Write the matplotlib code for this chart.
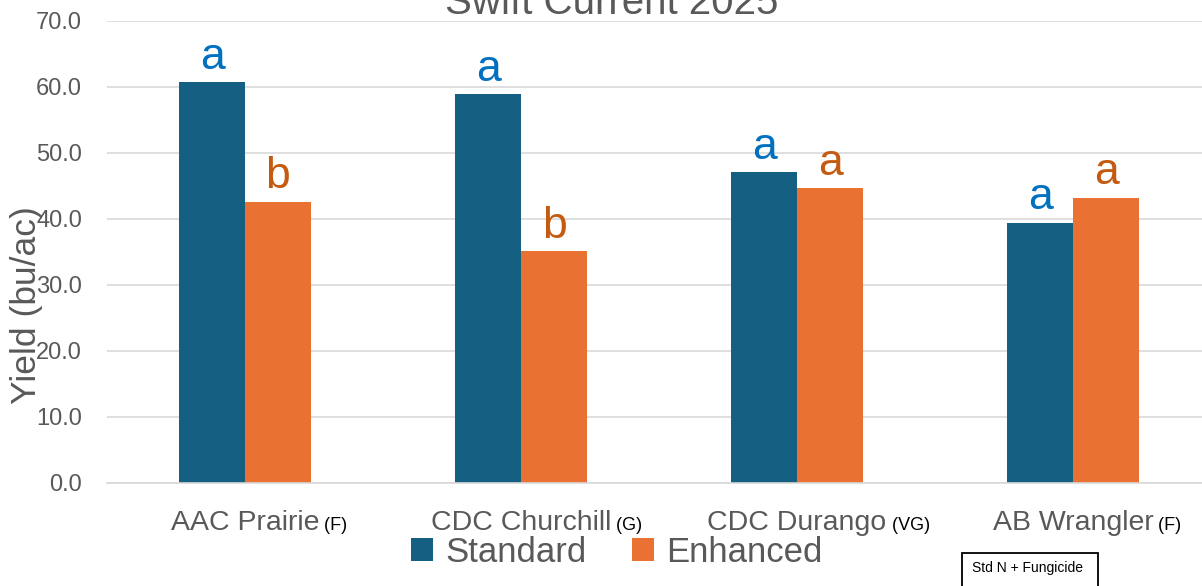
import matplotlib
matplotlib.use("Agg")
import matplotlib.pyplot as plt
from matplotlib.patches import Rectangle
import numpy as np

plt.rcParams['font.family'] = ['Liberation Sans', 'DejaVu Sans']

varieties = ["AAC Prairie", "CDC Churchill", "CDC Durango", "AB Wrangler"]
ratings = ["(F)", "(G)", "(VG)", "(F)"]
standard = [60.7, 58.9, 47.1, 39.4]
enhanced = [42.6, 35.1, 44.6, 43.2]
letters_std = ["a", "a", "a", "a"]
letters_enh = ["b", "b", "a", "a"]
yticks = [0, 10, 20, 30, 40, 50, 60, 70]

c_std = "#156082"
c_enh = "#E97132"
c_let_std = "#0070C0"
c_let_enh = "#C55A11"
gray = "#595959"

W, H = 1202, 586
fig = plt.figure(figsize=(W / 100, H / 100), dpi=100)
ax = fig.add_axes([0.089, 0.1763, 0.911, 0.7884])

x = np.arange(len(varieties))
w = 0.239
b1 = ax.bar(x - w / 2, standard, w, color=c_std, label="Standard", zorder=2)
b2 = ax.bar(x + w / 2, enhanced, w, color=c_enh, label="Enhanced", zorder=2)

for xi, v, l in zip(x, standard, letters_std):
    ax.annotate(l, (xi - w / 2, v), xytext=(0, 9.5), textcoords="offset points",
                ha="center", va="baseline", fontsize=32, color=c_let_std)
for xi, v, l in zip(x, enhanced, letters_enh):
    ax.annotate(l, (xi + w / 2, v), xytext=(0, 9.5), textcoords="offset points",
                ha="center", va="baseline", fontsize=32, color=c_let_enh)

ax.set_ylim(0, 70)
ax.set_xlim(-0.5, 3.467)
ax.set_yticks(yticks)
ax.set_yticklabels([f"{t:.1f}" for t in yticks])
ax.tick_params(axis="y", length=0, pad=18, labelsize=17, labelcolor=gray)
ax.set_xticks([])
ax.grid(axis="y", color="#D9D9D9", linewidth=1.2, zorder=0)
for s in ["top", "right", "left"]:
    ax.spines[s].set_visible(False)
ax.spines["bottom"].set_color("#D9D9D9")
ax.spines["bottom"].set_linewidth(1.2)

ax.set_ylabel("Yield (bu/ac)", fontsize=25.5, color=gray)
ax.yaxis.set_label_coords(-0.058, 0.385)

for xi, name, r in zip(x, varieties, ratings):
    t = ax.annotate(name, (xi, 0), xycoords=("data", "axes fraction"),
                    xytext=(0, -29), textcoords="offset points",
                    ha="center", va="center", fontsize=20.5, color=gray)
    ax.annotate(" " + r, xy=(1.0, 0.22), xycoords=t, ha="left", va="baseline",
                fontsize=13, color="black")

fig.text(0.509, 0.976, "Swift Current 2025", ha="center", va="baseline",
         fontsize=29, color=gray)

leg = fig.legend(handles=[b1, b2], loc="center", bbox_to_anchor=(0.513, 0.057),
                 ncol=2, frameon=False, fontsize=25, handlelength=0.65,
                 handleheight=0.65, handletextpad=0.35, columnspacing=1.3)
for t in leg.get_texts():
    t.set_color(gray)

fig.add_artist(Rectangle((962 / W, (H - 592) / H), 136 / W, 39 / H,
                         transform=fig.transFigure, fc="white", ec="black",
                         lw=1.3, clip_on=False))
fig.text(972 / W, (H - 568) / H, "Std N + Fungicide", fontsize=10,
         color="black", ha="left", va="center")

fig.savefig("out.png", dpi=100)
